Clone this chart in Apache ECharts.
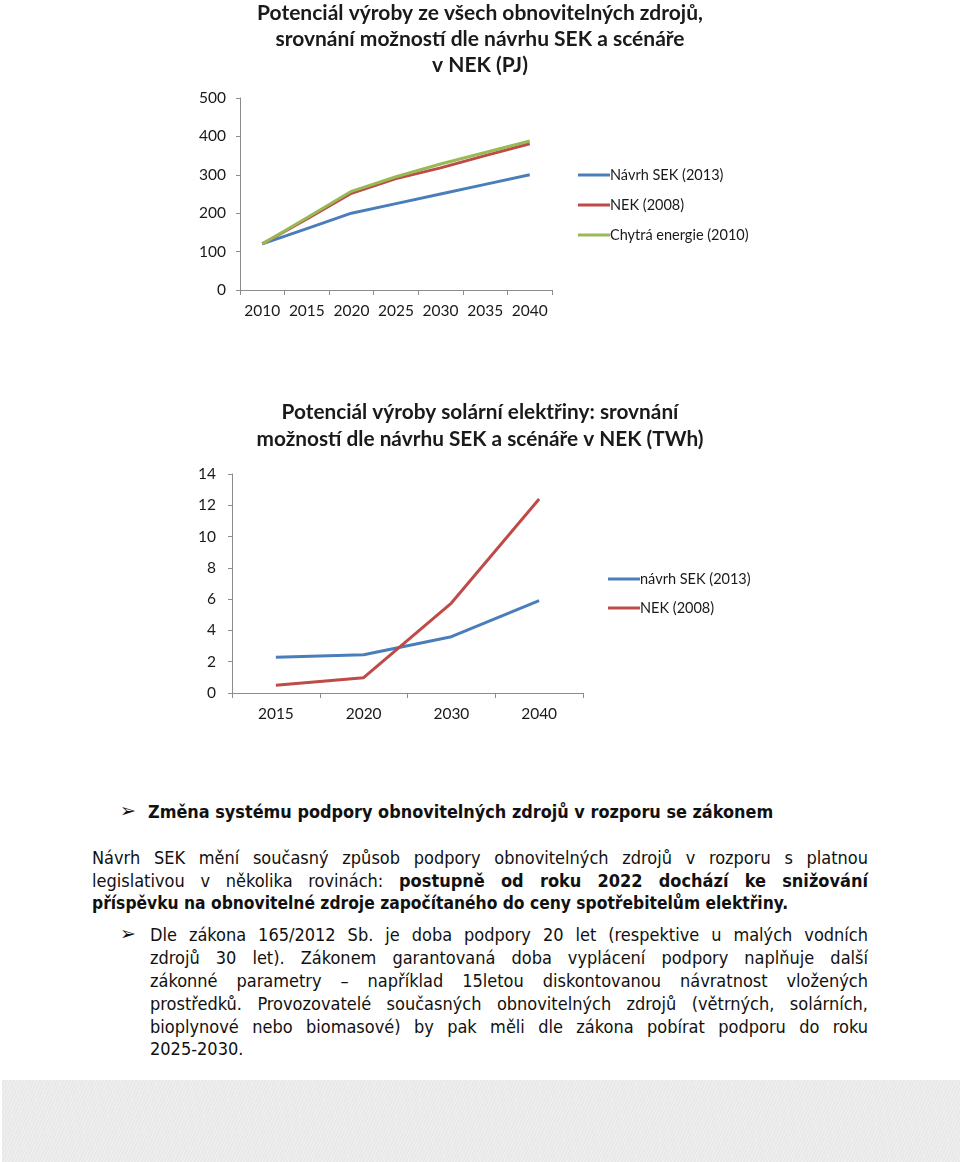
<!DOCTYPE html>
<html><head><meta charset="utf-8">
<script src="https://cdn.jsdelivr.net/npm/echarts@6/dist/echarts.min.js"></script>
<style>
html,body{margin:0;padding:0;background:#fff;width:960px;height:1162px;overflow:hidden;}
#chart{position:absolute;left:0;top:0;width:960px;height:760px;}
.txt{position:absolute;font-family:"DejaVu Sans Condensed","DejaVu Sans",sans-serif;font-size:18px;color:#111;line-height:23px;white-space:nowrap;}
.j{text-align:justify;text-align-last:justify;white-space:normal;}
.b{font-weight:bold;}
.bul{font-family:"DejaVu Sans",sans-serif;font-size:19px;}
.band{position:absolute;left:2px;top:1080px;width:958px;height:82px;background:#e9e9e9;
background-image:repeating-linear-gradient(115deg,rgba(255,255,255,0.3) 0 1px,rgba(0,0,0,0) 1px 3px);}
</style></head>
<body>
<div id="chart"></div>
<div class="txt bul" style="left:120px;top:799px;">➢</div>
<div class="txt b" style="left:148px;top:800px;font-size:17.9px;">Změna systému podpory obnovitelných zdrojů v rozporu se zákonem</div>
<div class="txt j" style="left:92px;top:846px;width:776px;">Návrh SEK mění současný způsob podpory obnovitelných zdrojů v rozporu s platnou</div>
<div class="txt j" style="left:92px;top:869px;width:776px;">legislativou v několika rovinách: <b>postupně od roku 2022 dochází ke snižování</b></div>
<div class="txt b" style="left:92px;top:892px;font-size:17.3px;">příspěvku na obnovitelné zdroje započítaného do ceny spotřebitelům elektřiny.</div>
<div class="txt bul" style="left:120px;top:922px;">➢</div>
<div class="txt j" style="left:150px;top:923px;width:718px;">Dle zákona 165/2012 Sb. je doba podpory 20 let (respektive u malých vodních</div>
<div class="txt j" style="left:150px;top:946px;width:718px;">zdrojů 30 let). Zákonem garantovaná doba vyplácení podpory naplňuje další</div>
<div class="txt j" style="left:150px;top:969px;width:718px;">zákonné parametry – například 15letou diskontovanou návratnost vložených</div>
<div class="txt j" style="left:150px;top:992px;width:718px;">prostředků. Provozovatelé současných obnovitelných zdrojů (větrných, solárních,</div>
<div class="txt j" style="left:150px;top:1015px;width:718px;">bioplynové nebo biomasové) by pak měli dle zákona pobírat podporu do roku</div>
<div class="txt" style="left:150px;top:1037px;">2025-2030.</div>
<div class="band"></div>
<script>
// Chart 1: all renewable sources (PJ)
var years1 = ['2010','2015','2020','2025','2030','2035','2040'];
var sek1 = [120,160,200,225,250,275,300];
var nek1 = [120,185,252,290,318,350,381];
var chytra1 = [120,188,257,295,328,358,388];
var yTicks1 = {min:0,max:500,interval:100};
// Chart 2: solar electricity (TWh)
var years2 = ['2015','2020','2030','2040'];
var sek2 = [2.28,2.45,3.6,5.9];
var nek2 = [0.5,0.98,5.75,12.4];
var yTicks2 = {min:0,max:14,interval:2};

var BLUE='#4a7ebb', RED='#be4b48', GREEN='#98b954';
var FONT='Lato';
var axisLine={lineStyle:{color:'#8c8c8c',width:1}};
var chart=echarts.init(document.getElementById('chart'),null,{renderer:'canvas'});
function lineSeries(name,data,color,xi){
  return {name:name,type:'line',data:data,xAxisIndex:xi,yAxisIndex:xi,symbol:'none',
    lineStyle:{color:color,width:3},itemStyle:{color:color},animation:false,z:3};
}
var lab={fontFamily:FONT,fontSize:15.5,color:'#1a1a1a'};
chart.setOption({
  animation:false,
  textStyle:{fontFamily:FONT},
  title:[
    {text:'Potenciál výroby ze všech obnovitelných zdrojů,\nsrovnání možností dle návrhu SEK a scénáře\nv NEK (PJ)',
     left:480,top:0,textAlign:'center',padding:0,
     textStyle:{fontFamily:FONT,fontWeight:'bold',fontSize:21,lineHeight:26,color:'#1a1a1a'}},
    {text:'Potenciál výroby solární elektřiny: srovnání\nmožností dle návrhu SEK a scénáře v NEK (TWh)',
     left:480,top:399,textAlign:'center',padding:0,
     textStyle:{fontFamily:FONT,fontWeight:'bold',fontSize:20.8,lineHeight:27,color:'#1a1a1a'}}
  ],
  legend:[
    {orient:'vertical',left:578,top:167,padding:0,itemWidth:32,itemHeight:3,itemGap:14,icon:'rect',
     data:['Návrh SEK (2013)','NEK (2008)','Chytrá energie (2010)'],
     textStyle:{fontFamily:FONT,fontSize:14.5,lineHeight:16,color:'#1a1a1a',padding:[0,0,0,-5]},selectedMode:false},
    {orient:'vertical',left:608,top:571,padding:0,itemWidth:32,itemHeight:3,itemGap:13,icon:'rect',
     data:['návrh SEK (2013)','NEK (2008) '],
     textStyle:{fontFamily:FONT,fontSize:14.5,lineHeight:16,color:'#1a1a1a',padding:[0,0,0,-5]},selectedMode:false}
  ],
  grid:[
    {left:240,top:98,width:312,height:192},
    {left:232,top:474,width:351,height:219}
  ],
  xAxis:[
    {type:'category',gridIndex:0,data:years1,boundaryGap:true,axisLine:axisLine,
     axisTick:{show:true,length:5,lineStyle:{color:'#8c8c8c'}},
     axisLabel:Object.assign({margin:13,interval:0},lab)},
    {type:'category',gridIndex:1,data:years2,boundaryGap:true,axisLine:axisLine,
     axisTick:{show:true,length:5,lineStyle:{color:'#8c8c8c'}},
     axisLabel:Object.assign({margin:13,interval:0},lab)}
  ],
  yAxis:[
    {type:'value',gridIndex:0,min:yTicks1.min,max:yTicks1.max,interval:yTicks1.interval,
     axisLine:{show:true,lineStyle:{color:'#8c8c8c'}},axisTick:{show:true,length:4,lineStyle:{color:'#8c8c8c'}},
     splitLine:{show:false},axisLabel:Object.assign({margin:14},lab)},
    {type:'value',gridIndex:1,min:yTicks2.min,max:yTicks2.max,interval:yTicks2.interval,
     axisLine:{show:true,lineStyle:{color:'#8c8c8c'}},axisTick:{show:true,length:4,lineStyle:{color:'#8c8c8c'}},
     splitLine:{show:false},axisLabel:Object.assign({margin:16},lab)}
  ],
  series:[
    lineSeries('Návrh SEK (2013)',sek1,BLUE,0),
    lineSeries('NEK (2008)',nek1,RED,0),
    lineSeries('Chytrá energie (2010)',chytra1,GREEN,0),
    lineSeries('návrh SEK (2013)',sek2,BLUE,1),
    lineSeries('NEK (2008) ',nek2,RED,1)
  ]
});
</script>
</body></html>
